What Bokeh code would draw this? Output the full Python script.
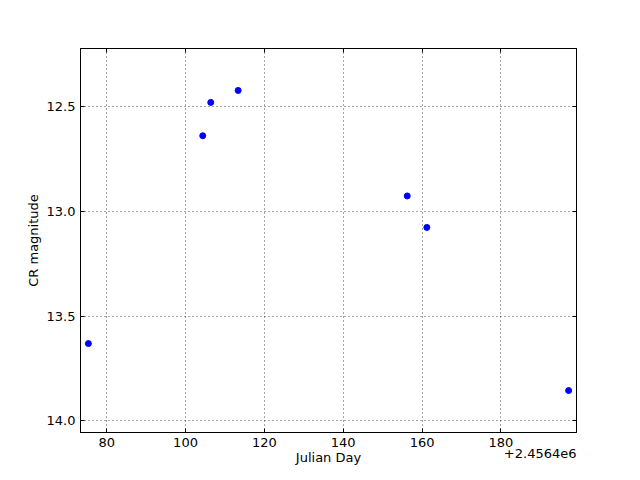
from bokeh.plotting import figure
from bokeh.models import Range1d, FixedTicker, PrintfTickFormatter, LinearAxis, Title
from bokeh.embed import file_html
from bokeh.resources import INLINE

# Data
jd_offset = 2456400.0
julian_day = [2456475.36, 2456504.37, 2456506.40, 2456513.35, 2456556.24, 2456561.22, 2456597.18]
cr_mag = [13.631, 12.640, 12.481, 12.424, 12.927, 13.077, 13.855]
x_ticks = [80, 100, 120, 140, 160, 180]
y_ticks = [12.5, 13.0, 13.5, 14.0]

xs = [d - jd_offset for d in julian_day]
x_min, x_max = min(xs) - 2, max(xs) + 2
y_min, y_max = min(cr_mag) - 0.2, max(cr_mag) + 0.2

FONT = "DejaVu Sans"

p = figure(width=624, height=467, output_backend="svg", toolbar_location=None,
           x_range=Range1d(x_min, x_max), y_range=Range1d(y_max, y_min),
           min_border_left=80, min_border_right=48, min_border_top=48, min_border_bottom=35)
p.background_fill_color = "white"
p.border_fill_color = "white"
p.outline_line_color = "black"
p.outline_line_width = 1

p.scatter(xs, cr_mag, size=6, fill_color="#0000ff", line_color="#0000ff")

for ax in [p.xaxis[0], p.yaxis[0]]:
    ax.major_tick_in = 4
    ax.major_tick_out = 0
    ax.minor_tick_line_color = None
    ax.axis_line_color = "black"
    ax.major_label_text_font = FONT
    ax.major_label_text_font_size = "13px"
    ax.major_label_text_color = "black"
    ax.axis_label_text_font = FONT
    ax.axis_label_text_font_size = "13px"
    ax.axis_label_text_font_style = "normal"
    ax.axis_label_text_color = "black"

p.xaxis[0].ticker = FixedTicker(ticks=x_ticks)
p.xaxis[0].formatter = PrintfTickFormatter(format="%d")
p.xaxis[0].axis_label = "Julian Day"
p.xaxis[0].axis_label_standoff = 0
p.xaxis[0].major_label_standoff = 5
p.yaxis[0].ticker = FixedTicker(ticks=y_ticks)
p.yaxis[0].formatter = PrintfTickFormatter(format="%.1f")
p.yaxis[0].axis_label = "CR magnitude"
p.yaxis[0].axis_label_standoff = 3
p.yaxis[0].major_label_standoff = 5

right = LinearAxis(ticker=FixedTicker(ticks=y_ticks), major_label_text_color=None,
                   major_label_standoff=0,
                   major_tick_in=4, major_tick_out=0, minor_tick_line_color=None)
top = LinearAxis(ticker=FixedTicker(ticks=x_ticks), major_label_text_color=None,
                 major_label_standoff=0,
                 major_tick_in=4, major_tick_out=0, minor_tick_line_color=None)
p.add_layout(right, "right")
p.add_layout(top, "above")

p.xgrid.ticker = FixedTicker(ticks=x_ticks)
p.ygrid.ticker = FixedTicker(ticks=y_ticks)
for g in [p.xgrid[0], p.ygrid[0]]:
    g.grid_line_color = "black"
    g.grid_line_alpha = 0.7
    g.grid_line_dash = "1 3"
    g.grid_line_width = 1

offset_title = Title(text="+2.4564e6", align="right", vertical_align="top",
                     standoff=-37,
                     text_font=FONT, text_font_size="13px",
                     text_font_style="normal", text_color="black")
p.add_layout(offset_title, "below")

open("out.html", "w").write(file_html(p, INLINE))
